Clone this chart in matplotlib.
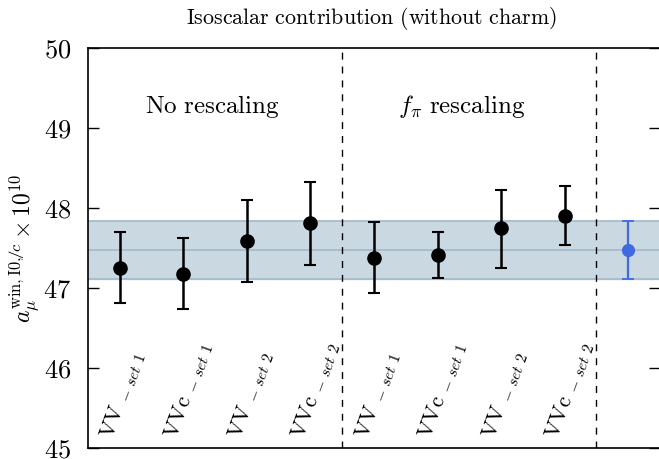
import matplotlib
matplotlib.use("Agg")
import matplotlib.pyplot as plt
import numpy as np

plt.rcParams['mathtext.fontset'] = 'cm'
plt.rcParams['font.family'] = ['DejaVu Serif']

labels = ["VV", "VVc", "VV", "VVc", "VV", "VVc", "VV", "VVc"]
sets = ["set 1", "set 1", "set 2", "set 2", "set 1", "set 1", "set 2", "set 2"]
values = [47.25, 47.17, 47.59, 47.81, 47.37, 47.41, 47.75, 47.90]
err_up = [0.45, 0.45, 0.51, 0.52, 0.45, 0.29, 0.48, 0.37]
err_dn = [0.44, 0.43, 0.51, 0.52, 0.43, 0.28, 0.50, 0.36]
avg_value = 47.475
avg_err = 0.365
group_titles = [r"$\mathrm{No\ rescaling}$", r"$f_\pi\ \mathrm{rescaling}$"]
title = r"$\mathrm{Isoscalar\ contribution\ (without\ charm)}$"

W, H = 659, 459
fig = plt.figure(figsize=(W/100, H/100), dpi=100)
ax = fig.add_axes([88/W, 1-448/H, 572/W, 400/H])

x = np.arange(1, len(values)+1)
ax.axhspan(avg_value-avg_err, avg_value+avg_err, color='#cad8e1', zorder=0)
for yv in (avg_value-avg_err, avg_value+avg_err, avg_value):
    ax.axhline(yv, color='#a3b9ca', lw=1.2, zorder=1)

ax.errorbar(x, values, yerr=[err_dn, err_up], fmt='o', color='black',
            ms=9.5, elinewidth=1.8, capsize=4.5, capthick=1.5, zorder=3)
ax.errorbar([len(values)+1], [avg_value], yerr=[[avg_err], [avg_err]], fmt='o',
            color='#4169e1', ms=8.5, elinewidth=1.6, capsize=4.5, capthick=1.3, zorder=3)

for xv in (4.5, 8.5):
    ax.axvline(xv, color='black', lw=1.0, ls=(0, (5, 5)), zorder=2)

ax.set_xlim(0.5, 9.5)
ax.set_ylim(45, 50)
ax.set_xticks([])
ax.set_yticks([45, 46, 47, 48, 49, 50])
ax.set_yticklabels([f"${v}$" for v in [45, 46, 47, 48, 49, 50]], fontsize=19)
ax.tick_params(axis='y', direction='in', length=8, width=1, left=True, right=True, pad=12)
for s in ax.spines.values():
    s.set_linewidth(1.2)

for xi, lab, st in zip(x, labels, sets):
    ax.text(xi-0.19, 45.12, rf"$\mathrm{{{lab}}}\ _{{\mathit{{-\ {st.replace(' ', chr(92)+' ')}}}}}$",
            rotation=70, rotation_mode='anchor', ha='left', va='center', fontsize=16)

ax.text(2.45, 49.27, group_titles[0], ha='center', va='center', fontsize=18)
ax.text(6.38, 49.27, group_titles[1], ha='center', va='center', fontsize=18)

fig.text(371/W, 1-18/H, title, ha='center', va='center', fontsize=15.8)
ax.set_ylabel(r"$a_\mu^{\mathrm{win,I0,}\,\not{c}}\times 10^{10}$",
              fontsize=17, labelpad=2)

fig.savefig("out.png", dpi=100)
